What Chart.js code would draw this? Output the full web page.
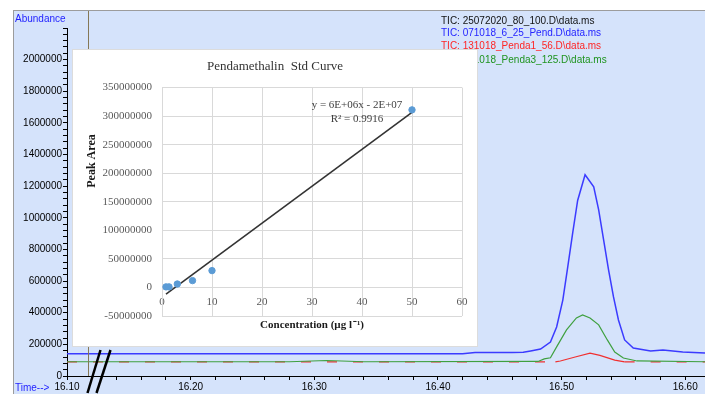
<!DOCTYPE html>
<html>
<head>
<meta charset="utf-8">
<script src="https://cdn.jsdelivr.net/npm/chart.js@4.4.1/dist/chart.umd.min.js"></script>
<style>
  html, body { margin: 0; padding: 0; background: #fff; }
  body { width: 705px; height: 394px; position: relative; overflow: hidden; font-family: "Liberation Sans", Arial, sans-serif; }
  #panel { position: absolute; left: 13px; top: 10px; width: 692px; height: 384px; box-sizing: border-box;
           background: #d5e3fb; border-top: 1px solid #9c9c9c; border-left: 1px solid #9c9c9c; }
  #tic-wrap { position: absolute; left: 14px; top: 11px; width: 691px; height: 383px; }
  .lbl { position: absolute; font-size: 10px; line-height: 12px; white-space: nowrap; }
  #inset { position: absolute; left: 73px; top: 50px; width: 404px; height: 296px; background: #fff;
           box-shadow: 0 0 0 1px #dcdcdc; }
</style>
</head>
<body>
<div id="panel"></div>
<div id="tic-wrap"><canvas id="tic"></canvas></div>
<div class="lbl" style="left:15px; top:13px; color:#1f1fff;">Abundance</div>
<div class="lbl" style="left:15px; top:382px; color:#1f1fff;">Time--&gt;</div>
<div class="lbl" style="left:441px; top:15px; color:#111;">TIC: 25072020_80_100.D\data.ms</div>
<div class="lbl" style="left:441px; top:27px; color:#2424ff;">TIC: 071018_6_25_Pend.D\data.ms</div>
<div class="lbl" style="left:441px; top:40px; color:#ff2424;">TIC: 131018_Penda1_56.D\data.ms</div>
<div class="lbl" style="left:441px; top:54px; color:#1f941f;">TIC: 131018_Penda3_125.D\data.ms</div>
<div id="inset"><canvas id="curve"></canvas></div>

<script>
// ── Chromatogram traces (retention time in min, abundance) ─────────────────
const pendTime  = [16.10, 16.20, 16.30, 16.42, 16.43, 16.46, 16.469, 16.475, 16.483, 16.491, 16.496,
                   16.501, 16.505, 16.509, 16.513, 16.519, 16.526, 16.530, 16.534, 16.538, 16.542,
                   16.546, 16.551, 16.558, 16.572, 16.582, 16.598, 16.616];
const pendAbund = [140000, 140000, 140000, 140000, 148000, 148000, 150000, 158000, 170000, 215000, 310000,
                   480000, 690000, 905000, 1110000, 1272000, 1196000, 1050000, 860000, 671000, 500000,
                   354000, 228000, 177000, 158000, 165000, 152000, 145000];

const penda3Time  = [16.10, 16.28, 16.31, 16.34, 16.481, 16.486, 16.491, 16.496, 16.504, 16.512, 16.517,
                     16.523, 16.530, 16.537, 16.543, 16.550, 16.561, 16.616];
const penda3Abund = [90000, 90000, 98000, 90000, 92000, 108000, 115000, 184000, 291000, 367000, 386000,
                     367000, 323000, 228000, 152000, 114000, 95000, 90000];

const penda1Time  = [16.10, 16.495, 16.499, 16.511, 16.523, 16.531, 16.543, 16.551, 16.616];
const penda1Abund = [89000, 89000, 95000, 120000, 145000, 130000, 100000, 89000, 89000];

const ticTickStep   = 0.02;
const abundTickStep = 40000;
const markerTime    = 16.117;

// ── Calibration standards ─────────────────────────────────────────────────
const stdConc = [0.8, 1.4, 3.06, 6.1, 10, 50];
const stdArea = [1000000, 1000000, 6000000, 12000000, 29500000, 311000000];
const eqText  = 'y = 6E+06x - 2E+07';
const r2Text  = 'R² = 0.9916';

const sans  = '"Liberation Sans", Arial, sans-serif';
const serif = '"Liberation Serif", "Times New Roman", serif';

const pts = (xs, ys) => xs.map((x, i) => ({ x, y: ys[i] }));

// least squares trendline, like the spreadsheet one
function trend(xs, ys) {
  const n = xs.length;
  const mx = xs.reduce((a, b) => a + b, 0) / n;
  const my = ys.reduce((a, b) => a + b, 0) / n;
  let sxy = 0, sxx = 0;
  xs.forEach((x, i) => { sxy += (x - mx) * (ys[i] - my); sxx += (x - mx) * (x - mx); });
  const m = sxy / sxx, b = my - m * mx;
  const lo = Math.min(...xs), hi = Math.max(...xs);
  return [{ x: lo, y: m * lo + b }, { x: hi, y: m * hi + b }];
}

// vertical marker + axis break marks
const markerPlugin = {
  id: 'marker',
  afterDraw(chart) {
    const { ctx, chartArea, scales: { x } } = chart;
    const mx = Math.round(x.getPixelForValue(markerTime)) + 0.5;
    const b = chartArea.bottom;
    ctx.save();
    ctx.strokeStyle = '#857856';
    ctx.lineWidth = 1;
    ctx.beginPath(); ctx.moveTo(mx, 0); ctx.lineTo(mx, b); ctx.stroke();
    ctx.strokeStyle = '#000';
    ctx.lineWidth = 2.5;
    [[-1, 12], [8, 22]].forEach(([a, c]) => {
      ctx.beginPath(); ctx.moveTo(mx + a, b + 17); ctx.lineTo(mx + c, b - 26); ctx.stroke();
    });
    ctx.restore();
  }
};

new Chart(document.getElementById('tic'), {
  type: 'line',
  data: {
    datasets: [
      { label: 'Pend', data: pts(pendTime, pendAbund), borderColor: '#3b3bff', borderWidth: 1.5 },
      { label: 'Penda3', data: pts(penda3Time, penda3Abund), borderColor: '#3fa03f', borderWidth: 1.2 },
      { label: 'Penda1', data: pts(penda1Time, penda1Abund), borderColor: '#f03030', borderWidth: 1.2,
        segment: { borderDash: c => (c.p0.parsed.y < 92000 && c.p1.parsed.y < 92000) ? [10, 16] : undefined } },
    ],
  },
  options: {
    animation: false,
    responsive: true,
    maintainAspectRatio: false,
    layout: { padding: { top: 17, right: 0, bottom: 0, left: 0 } },
    elements: { point: { radius: 0 }, line: { tension: 0 } },
    plugins: { legend: { display: false }, tooltip: { enabled: false } },
    scales: {
      x: {
        type: 'linear', min: 16.10, max: 16.616,
        afterFit: s => { s.height = 18; },
        ticks: {
          stepSize: ticTickStep, autoSkip: false, includeBounds: false, maxRotation: 0, padding: 1,
          color: '#000', font: { family: sans, size: 10 },
          callback: v => Math.abs(v * 10 - Math.round(v * 10)) < 1e-6 ? v.toFixed(2) : '',
        },
        grid: { drawOnChartArea: false, tickLength: 4, color: '#000' },
        border: { color: '#000' },
      },
      y: {
        min: 0, max: 2200000,
        afterFit: s => { s.width = 53; },
        ticks: {
          stepSize: abundTickStep, autoSkip: false, padding: 1,
          color: '#000', font: { family: sans, size: 10 },
          callback: v => (v % 200000 === 0 && v <= 2000000) ? String(v) : '',
        },
        grid: { drawOnChartArea: false, tickLength: 4, color: '#000' },
        border: { color: '#000' },
      },
    },
  },
  plugins: [markerPlugin],
});

// equation + rotated y title for the inset
const insetText = {
  id: 'insetText',
  afterDraw(chart) {
    const { ctx, chartArea: a } = chart;
    ctx.save();
    ctx.fillStyle = '#404040';
    ctx.textAlign = 'center';
    ctx.textBaseline = 'middle';
    ctx.font = '11px ' + serif;
    ctx.fillText(eqText, a.left + 195, a.top + 18);
    ctx.fillText(r2Text, a.left + 195, a.top + 32);
    ctx.fillStyle = '#1a1a1a';
    ctx.font = 'bold 12px ' + serif;
    ctx.translate(19, 111);
    ctx.rotate(-Math.PI / 2);
    ctx.fillText('Peak Area', 0, 0);
    ctx.restore();
  }
};

new Chart(document.getElementById('curve'), {
  type: 'scatter',
  data: {
    datasets: [
      { label: 'Linear', data: trend(stdConc, stdArea), showLine: true, borderColor: '#333',
        borderWidth: 1.6, pointRadius: 0, order: 2 },
      { label: 'Standards', data: pts(stdConc, stdArea), backgroundColor: '#5b9bd5',
        borderColor: '#5b9bd5', pointRadius: 3.2, order: 1 },
    ],
  },
  options: {
    animation: false,
    responsive: true,
    maintainAspectRatio: false,
    layout: { padding: { top: 0, right: 15, bottom: 30, left: 15 } },
    plugins: {
      legend: { display: false },
      tooltip: { enabled: false },
      title: {
        display: true, text: 'Pendamethalin  Std Curve', color: '#333',
        font: { family: serif, size: 13, weight: 'normal' },
        padding: { top: 9, bottom: 13 },
      },
    },
    scales: {
      x: {
        type: 'linear', min: 0, max: 60,
        position: { y: 0 },
        ticks: { stepSize: 10, padding: 8, color: '#595959', font: { family: serif, size: 11 } },
        grid: { color: '#d9d9d9', drawTicks: false },
        border: { color: '#d9d9d9' },
        title: {
          display: true, text: 'Concentration (µg l\u200A⁻¹)', color: '#1a1a1a',
          font: { family: serif, size: 11, weight: 'bold' }, padding: { top: 2, bottom: 0 },
        },
      },
      y: {
        min: -50000000, max: 350000000,
        afterFit: s => { s.width = 74; },
        ticks: { stepSize: 50000000, padding: 10, color: '#595959', font: { family: serif, size: 11 },
                 callback: v => String(v) },
        grid: { color: '#d9d9d9', drawTicks: false },
        border: { color: '#d9d9d9' },
      },
    },
  },
  plugins: [insetText],
});
</script>
</body>
</html>
